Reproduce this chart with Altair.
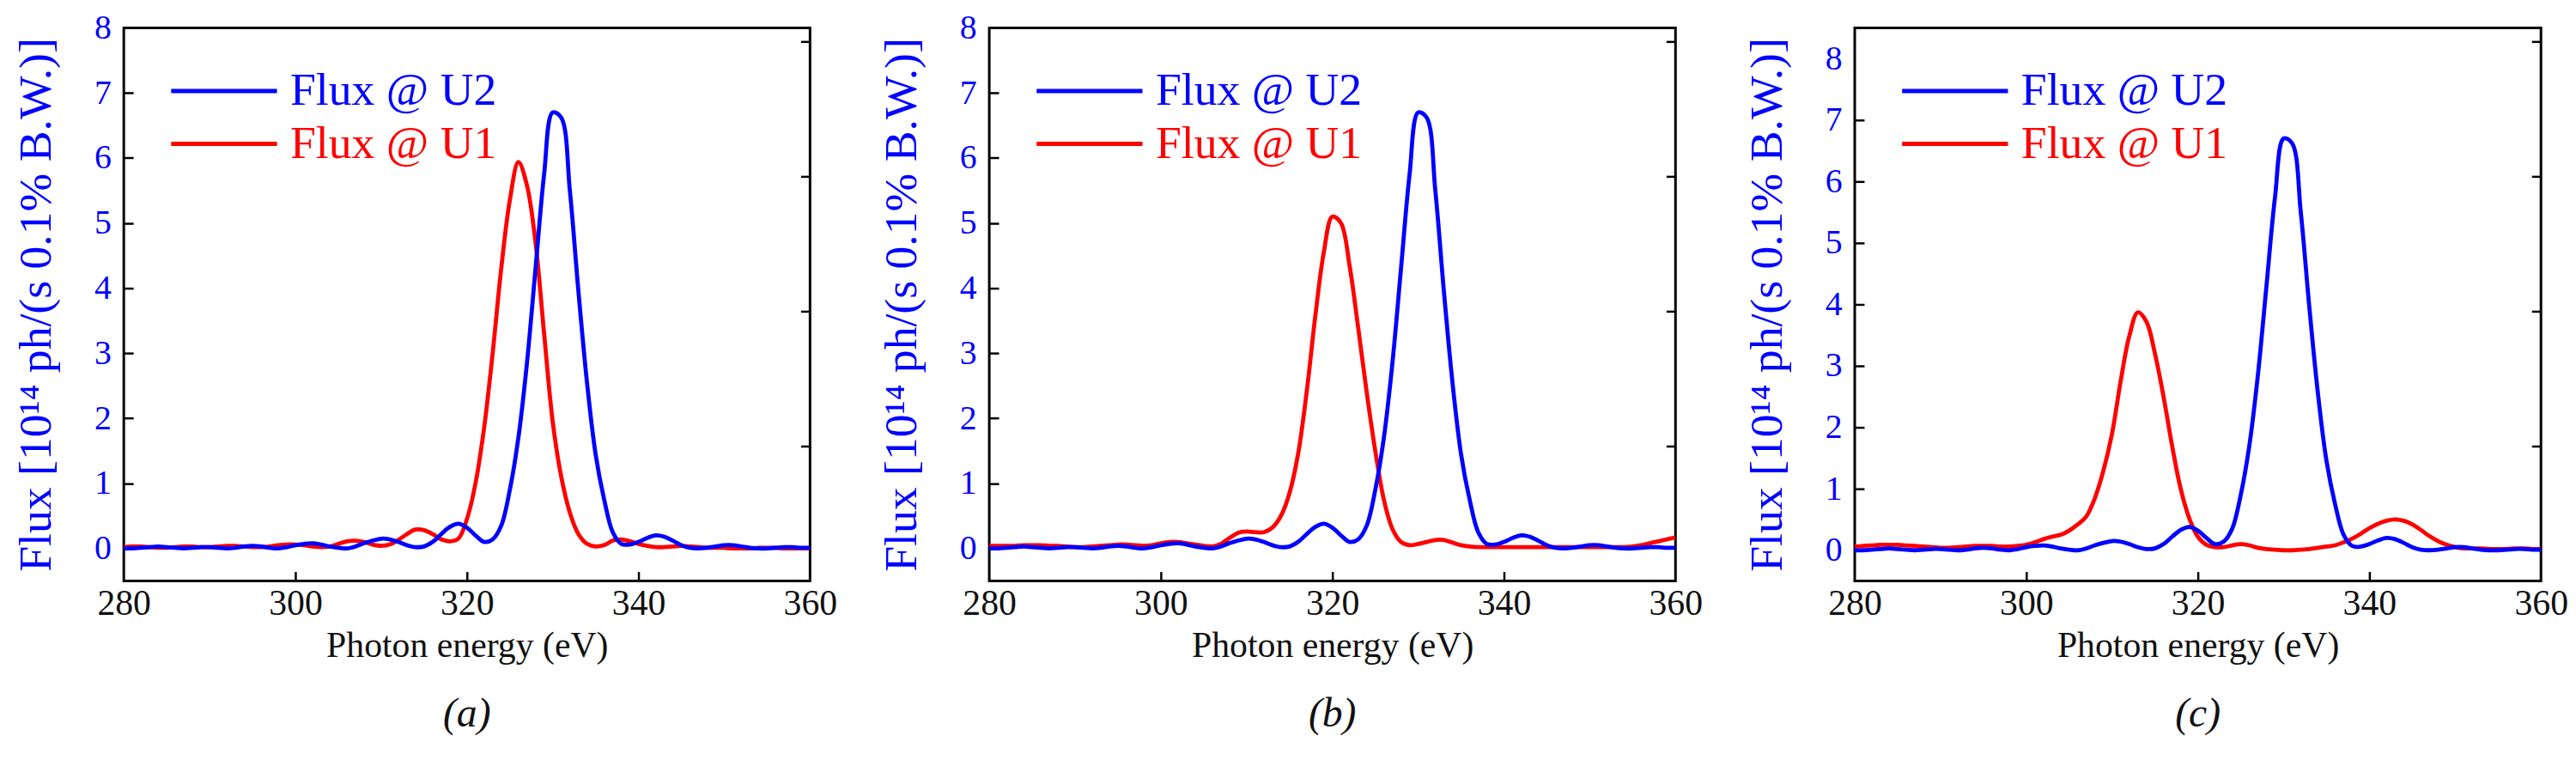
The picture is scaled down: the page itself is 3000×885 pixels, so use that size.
import altair as alt
import pandas as pd

# ---------------- data ----------------
energy = list(range(280, 361))

# Flux @ U2 (same curve in the three panels)
flux_u2 = [
    0.00, 0.00, 0.01, 0.02, 0.03, 0.02, 0.01, 0.00, 0.01, 0.02,   # 280-289
    0.02, 0.01, 0.00, 0.01, 0.03, 0.04, 0.03, 0.01, 0.00, 0.02,   # 290-299
    0.05, 0.07, 0.08, 0.06, 0.03, 0.01, 0.00, 0.03, 0.08, 0.12,   # 300-309
    0.15, 0.14, 0.10, 0.05, 0.02, 0.03, 0.10, 0.22, 0.33, 0.38,   # 310-319
    0.32, 0.20, 0.10, 0.14, 0.35, 0.90, 1.70, 2.85, 4.30, 5.75,   # 320-329
    6.70, 6.62, 5.50, 3.95, 2.55, 1.45, 0.75, 0.25, 0.07, 0.06,   # 330-339
    0.10, 0.16, 0.20, 0.18, 0.12, 0.05, 0.01, 0.00, 0.01, 0.03,   # 340-349
    0.05, 0.05, 0.03, 0.01, 0.00, 0.00, 0.01, 0.02, 0.02, 0.01,   # 350-359
    0.01,                                                         # 360
]

# Flux @ U1, panel (a)
flux_u1_a = [
    0.02, 0.03, 0.03, 0.02, 0.01, 0.01, 0.02, 0.03, 0.03, 0.02,
    0.02, 0.03, 0.04, 0.04, 0.03, 0.02, 0.02, 0.03, 0.05, 0.06,
    0.06, 0.05, 0.03, 0.02, 0.03, 0.07, 0.11, 0.12, 0.10, 0.06,
    0.04, 0.06, 0.13, 0.22, 0.29, 0.28, 0.22, 0.14, 0.11, 0.15,
    0.45, 1.00, 1.85, 3.00, 4.30, 5.35, 5.94, 5.58, 4.70, 3.30,
    1.95, 1.10, 0.55, 0.22, 0.07, 0.03, 0.05, 0.12, 0.14, 0.11,
    0.07, 0.04, 0.02, 0.02, 0.03, 0.04, 0.03, 0.02, 0.01, 0.01,
    0.01, 0.00, 0.00, 0.00, 0.01, 0.01, 0.01, 0.00, 0.00, 0.00,
    0.00,
]

# Flux @ U1, panel (b)
flux_u1_b = [
    0.04, 0.04, 0.04, 0.04, 0.05, 0.05, 0.05, 0.04, 0.04, 0.03,
    0.02, 0.02, 0.03, 0.04, 0.05, 0.06, 0.06, 0.05, 0.04, 0.05,
    0.08, 0.10, 0.10, 0.08, 0.06, 0.04, 0.03, 0.07, 0.16, 0.24,
    0.26, 0.25, 0.25, 0.32, 0.50, 0.85, 1.45, 2.40, 3.56, 4.55,
    5.10, 5.00, 4.35, 3.40, 2.40, 1.50, 0.75, 0.30, 0.10, 0.05,
    0.07, 0.10, 0.13, 0.13, 0.09, 0.05, 0.03, 0.02, 0.02, 0.02,
    0.02, 0.02, 0.02, 0.02, 0.02, 0.02, 0.02, 0.02, 0.02, 0.02,
    0.02, 0.02, 0.02, 0.02, 0.02, 0.03, 0.05, 0.08, 0.11, 0.14,
    0.17,
]

# Flux @ U1, panel (c)
flux_u1_c = [
    0.06, 0.07, 0.08, 0.09, 0.09, 0.09, 0.08, 0.07, 0.06, 0.05,
    0.04, 0.04, 0.05, 0.06, 0.07, 0.07, 0.07, 0.06, 0.06, 0.07,
    0.09, 0.13, 0.18, 0.22, 0.25, 0.32, 0.42, 0.55, 0.85, 1.30,
    1.90, 2.75, 3.48, 3.87, 3.72, 3.20, 2.50, 1.70, 1.00, 0.52,
    0.22, 0.09, 0.05, 0.05, 0.08, 0.10, 0.08, 0.04, 0.02, 0.01,
    0.00, 0.00, 0.01, 0.02, 0.04, 0.06, 0.08, 0.13, 0.19, 0.27,
    0.36, 0.43, 0.48, 0.50, 0.48, 0.42, 0.33, 0.23, 0.15, 0.09,
    0.05, 0.03, 0.03, 0.03, 0.02, 0.02, 0.02, 0.03, 0.03, 0.02,
    0.02,
]

series_u2 = "Flux @ U2"
series_u1 = "Flux @ U1"
panel_captions = ["(a)", "(b)", "(c)"]
y_domains = [[-0.5, 8], [-0.5, 8], [-0.5, 8.5]]
x_ticks = [280, 300, 320, 340, 360]
x_inner_ticks = [300, 320, 340]
y_ticks = [0, 1, 2, 3, 4, 5, 6, 7, 8]
right_ticks = [1, 2, 3, 4]
right_domain = [0, 4.1]

# ---------------- styling ----------------
BLUE = "#0000ff"
RED = "#ff0000"
FONT = "Liberation Serif, Times New Roman, Times, serif"
W, H = 804, 648
TICK = 11


def panel(u1_values, caption, ydom):
    df = pd.DataFrame({
        "energy": energy + energy,
        "flux": list(u1_values) + list(flux_u2),
        "series": [series_u1] * len(energy) + [series_u2] * len(energy),
    })
    base = alt.Chart(df)
    xs = alt.Scale(domain=[280, 360], nice=False, zero=False)
    ys = alt.Scale(domain=ydom, nice=False, zero=False)

    tick_layer = base.mark_line(opacity=0).encode(
        x=alt.X("energy:Q", scale=xs, axis=alt.Axis(
            values=x_inner_ticks, orient="bottom", offset=-TICK, labels=False,
            title=None, domain=False, grid=False, ticks=True, tickSize=TICK,
            tickWidth=2.5, tickColor="black")),
        y=alt.Y("flux:Q", scale=ys, axis=alt.Axis(
            values=y_ticks[:-1], orient="left", offset=-TICK, labels=False,
            title=None, domain=False, grid=False, ticks=True, tickSize=TICK,
            tickWidth=2.5, tickColor="black")),
        detail="series:N",
    )

    right_layer = base.mark_line(opacity=0, clip=True).encode(
        x=alt.X("energy:Q", scale=xs, axis=None),
        y=alt.Y("flux:Q", scale=alt.Scale(domain=right_domain, nice=False, zero=False),
                axis=alt.Axis(values=right_ticks, orient="right", offset=-TICK,
                              labels=False, title=None, domain=False, grid=False,
                              ticks=True, tickSize=TICK, tickWidth=2.5,
                              tickColor="black")),
        detail="series:N",
    )

    lines = base.mark_line(strokeWidth=4.8, interpolate="catmull-rom", clip=True).encode(
        x=alt.X("energy:Q", scale=xs, axis=alt.Axis(
            values=x_ticks, orient="bottom", title="Photon energy (eV)",
            ticks=False, tickSize=0, domain=False, grid=False,
            labelFont=FONT, labelFontSize=42, labelColor="#111111",
            labelPadding=6, labelFlush=False, labelOverlap=False,
            titleFont=FONT, titleFontSize=42, titleFontWeight="normal",
            titleColor="#111111", titlePadding=8)),
        y=alt.Y("flux:Q", scale=ys, axis=alt.Axis(
            values=y_ticks, orient="left",
            title="Flux [10\u00b9\u2074 ph/(s 0.1% B.W.)]",
            ticks=False, tickSize=0, domain=False, grid=False,
            labelFont=FONT, labelFontSize=40, labelColor=BLUE,
            labelPadding=15, labelFlush=False, labelOverlap=False,
            titleFont=FONT, titleFontSize=54, titleFontWeight="normal",
            titleColor=BLUE, titlePadding=40)),
        color=alt.Color("series:N",
                        scale=alt.Scale(domain=[series_u2, series_u1], range=[BLUE, RED]),
                        legend=alt.Legend(
                            title=None, orient="none", legendX=53, legendY=46,
                            symbolType="stroke", symbolSize=15376,
                            symbolStrokeWidth=5, labelFont=FONT,
                            labelFontSize=54, labelOffset=13, labelLimit=0,
                            clipHeight=56, rowPadding=6, padding=0,
                            labelColor={"expr": "datum.value == 'Flux @ U2' ? '#0000ff' : '#ff0000'"})),
    )

    return alt.layer(tick_layer, right_layer, lines).resolve_scale(
        y="independent"
    ).resolve_axis(
        x="independent", y="independent"
    ).properties(
        width=W, height=H,
        title=alt.TitleParams(text=caption, orient="bottom", anchor="middle",
                              font=FONT, fontSize=48, fontStyle="italic",
                              fontWeight="normal", color="#111111", offset=36),
    )


panels = [panel(v, c, d) for v, c, d in zip([flux_u1_a, flux_u1_b, flux_u1_c],
                                            panel_captions, y_domains)]

chart = alt.hconcat(*panels, spacing=210, bounds="flush").resolve_scale(
    color="independent"
).properties(
    padding={"left": 6, "top": 0, "right": 0, "bottom": 0},
    background="white",
).configure_view(stroke="black", strokeWidth=3)

chart.save("out.html", embed_options={"renderer": "svg", "actions": False})
